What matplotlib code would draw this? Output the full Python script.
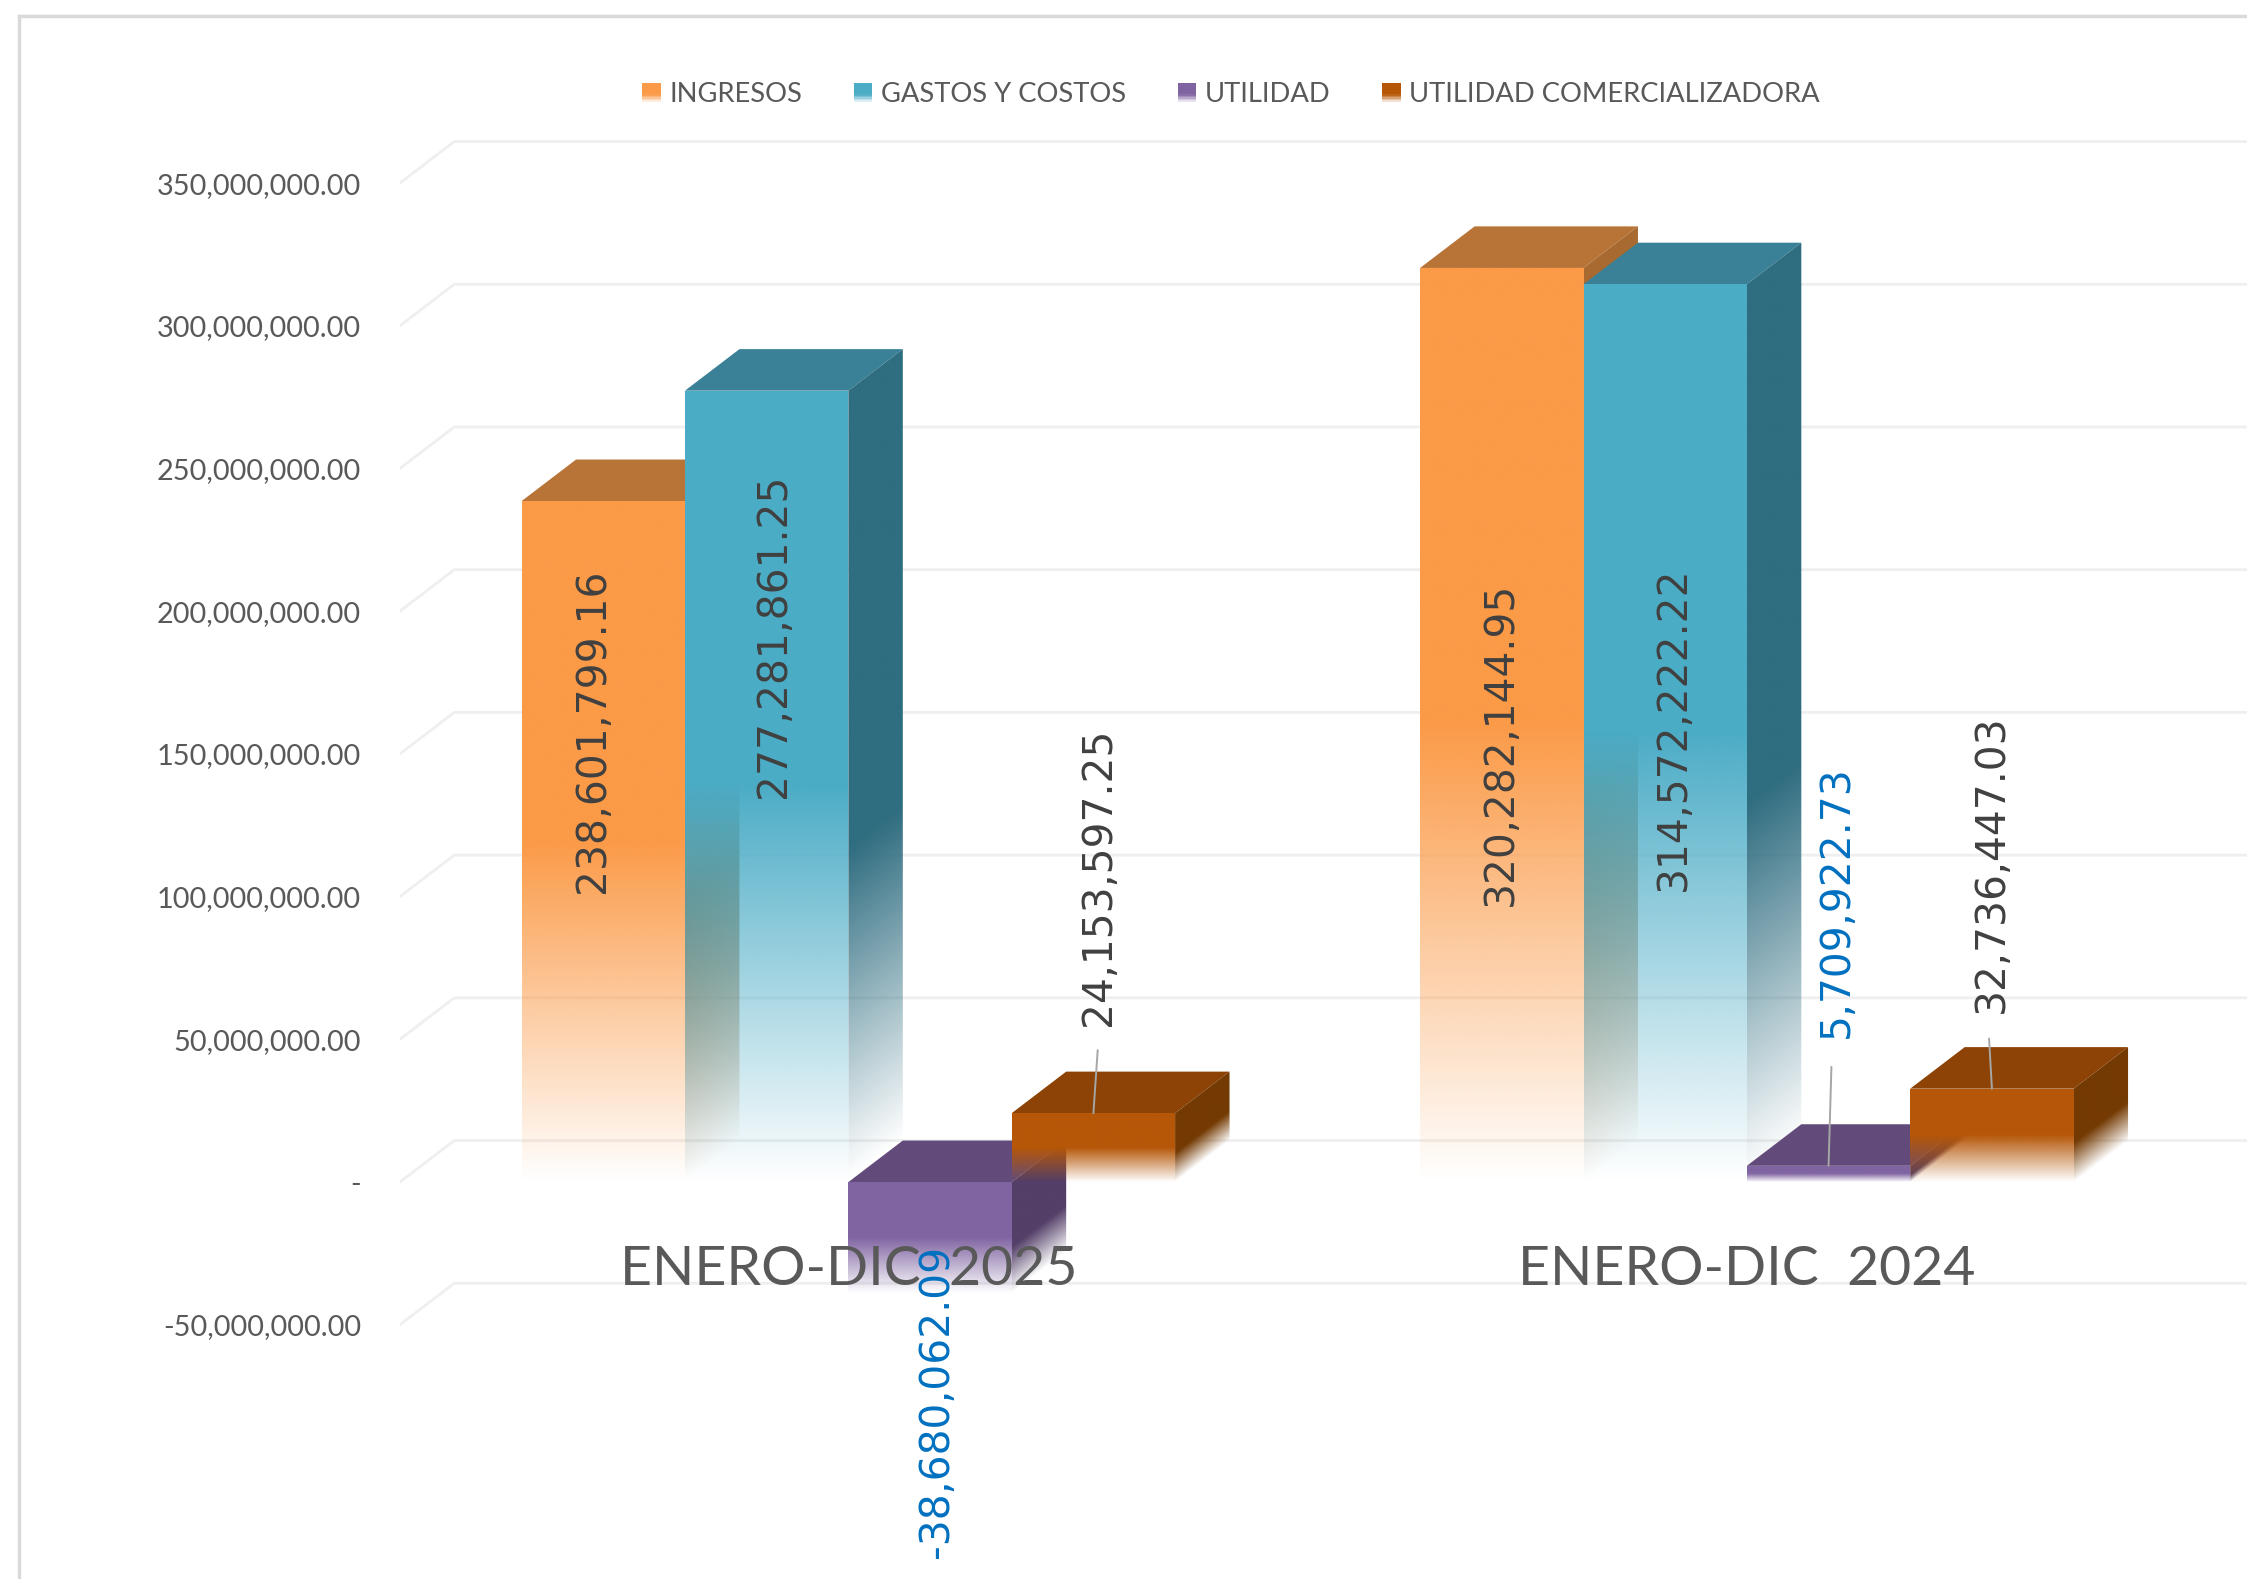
import numpy as np
import matplotlib
matplotlib.use('Agg')
import matplotlib.pyplot as plt
from matplotlib.legend_handler import HandlerBase
from matplotlib.lines import Line2D
from matplotlib.patches import Polygon, Rectangle

categories = ['ENERO-DIC  2025', 'ENERO-DIC  2024']
series_names = ['INGRESOS', 'GASTOS Y COSTOS', 'UTILIDAD', 'UTILIDAD COMERCIALIZADORA']
ingresos = [238601799.16, 320282144.95]
gastos = [277281861.25, 314572222.22]
utilidad = [-38680062.09, 5709922.73]
comercializadora = [24153597.25, 32736447.03]
y_ticks = [-50000000, 0, 50000000, 100000000, 150000000, 200000000, 250000000, 300000000, 350000000]

front_colors = ['#FB9A47', '#4BACC6', '#8064A2', '#B65708']
top_colors = ['#B87336', '#3A8198', '#624B7A', '#8C4305']
side_colors = ['#A86A30', '#2F6D80', '#533F68', '#743A03']
label_colors = ['#404040', '#404040', '#0070C0', '#404040']

# layout measured on the 1568 wide view of the reference
W, H = 1568.0, 1102.0
SCALE = 2247.0 / W
PT = SCALE * 72 / 100
CAT_PX = 627.0
CAT0_PX = 592.0
ZERO_PY = 825.0
PX_PER_VALUE = 99.6 / 50000000
BAR_W = 114.0 / CAT_PX
DEPTH_X = 38.0 / CAT_PX
DEPTH_Y = 29.0 / PX_PER_VALUE

# label offset from the bar top centre (px), [group][series]
label_dx = [[-7, 5, 5, 4], [-1, 6, 6, 0]]
label_dy = [[-160, -171, -153, 165], [-332, -310, 184, 157]]
# leader lines (group, series, length, dx at the label end)
leaders = [(0, 3, 44, 3), (1, 2, 69, 2), (1, 3, 35, -2)]

plt.rcParams['font.family'] = ['Lato', 'DejaVu Sans']


def fading_image(t, color, start):
    # alpha stays 1 down to start, then goes down to 0 at the base
    alpha = np.clip((1.0 - t) / (1.0 - start), 0, 1)
    rgb = matplotlib.colors.to_rgb(color)
    rgba = np.zeros(t.shape + (4,))
    rgba[..., 0], rgba[..., 1], rgba[..., 2] = rgb
    rgba[..., 3] = alpha
    return rgba


def fading_face(ax, x0, x1, y_top, height, rise, color, z, start=0.5):
    verts = [(x0, y_top), (x1, y_top + rise), (x1, y_top + rise - height), (x0, y_top - height)]
    y_max = y_top + rise
    y_min = y_top - height
    fx, fy = np.meshgrid(np.linspace(0, 1, 80), np.linspace(1, 0, 600))
    y = y_min + fy * (y_max - y_min)
    t = (y_top + fx * rise - y) / height
    im = ax.imshow(fading_image(np.clip(t, 0, 1), color, start), extent=(x0, x1, y_min, y_max),
        origin='upper', aspect='auto', interpolation='bilinear', zorder=z)
    clip = Polygon(verts, closed=True, transform=ax.transData)
    im.set_clip_path(clip)


def draw_bar(ax, left, value, i, z):
    right = left + BAR_W
    top = max(value, 0)
    height = abs(value)
    ax.add_patch(Polygon([(left, top), (right, top), (right + DEPTH_X, top + DEPTH_Y), (left + DEPTH_X, top + DEPTH_Y)],
        closed=True, facecolor=top_colors[i], edgecolor='none', zorder=z))
    fading_face(ax, right, right + DEPTH_X, top, height, DEPTH_Y, side_colors[i], z + 0.1, start=0.58)
    fading_face(ax, left, right, top, height, 0, front_colors[i], z + 0.2)


class FadeHandler(HandlerBase):
    def __init__(self, color):
        super().__init__()
        self.color = color

    def create_artists(self, legend, orig_handle, xdescent, ydescent, width, height, fontsize, trans):
        artists = []
        n = 12
        for k in range(n):
            frac = k / n
            alpha = 1.0 if frac < 0.55 else 1.0 - (frac - 0.55) / 0.45
            r = Rectangle((-xdescent, -ydescent + height * (1 - (k + 1) / n)), width, height / n,
                facecolor=self.color, edgecolor='none', alpha=alpha, transform=trans)
            artists.append(r)
        return artists


fig = plt.figure(figsize=(22.47, 15.79), dpi=100, facecolor='white')
ax = fig.add_axes([279 / W, 0, 1 - 279 / W, 1])
ax.set_xlim((279 - CAT0_PX) / CAT_PX, (W - CAT0_PX) / CAT_PX)
ax.set_ylim((ZERO_PY - H) / PX_PER_VALUE, ZERO_PY / PX_PER_VALUE)
ax.set_autoscale_on(False)
ax.patch.set_alpha(0)
for s in ax.spines.values():
    s.set_visible(False)
ax.set_xticks([])
ax.set_yticks(y_ticks)
ax.set_yticklabels(['-' if v == 0 else '{:,.2f}'.format(v) for v in y_ticks])
ax.tick_params(axis='y', length=0, pad=27 * PT, labelsize=20.8, labelcolor='#595959')

# grid: short diagonal on the side wall, then along the back wall
x_left = ax.get_xlim()[0]
x_right = ax.get_xlim()[1]
for v in y_ticks:
    ax.plot([x_left, x_left + DEPTH_X, x_right], [v, v + DEPTH_Y, v + DEPTH_Y],
        color='#EFEFEF', lw=2.0, zorder=1, solid_joinstyle='miter')

# frame of the chart area, cropped by the picture on the right and bottom
frame_x = 18.5 / 2247
frame_y = 1 - 15.5 / 1579
fig.add_artist(Line2D([frame_x, frame_x], [0, frame_y], color='#D9D9D9', lw=2.5))
fig.add_artist(Line2D([frame_x, 1], [frame_y, frame_y], color='#D9D9D9', lw=2.5))

values = [ingresos, gastos, utilidad, comercializadora]
for c in range(len(categories)):
    for i in range(len(values)):
        draw_bar(ax, c + (i - 2) * BAR_W, values[i][c], i, 3 + c + i * 0.25)

for c, name in enumerate(categories):
    ax.text(c, (ZERO_PY - 886) / PX_PER_VALUE, name, ha='center', va='center',
        fontsize=39.9, color='#595959', zorder=20)

for c in range(len(categories)):
    for i in range(len(values)):
        v = values[i][c]
        center = c + (i - 1.5) * BAR_W
        ax.annotate('{:,.2f}'.format(v), xy=(center, max(v, 0)),
            xytext=(label_dx[c][i] * PT, label_dy[c][i] * PT), textcoords='offset points',
            rotation=90, ha='center', va='center', fontsize=29.3, color=label_colors[i],
            family=['DejaVu Sans'], zorder=22)

for c, i, length, dx in leaders:
    v = values[i][c]
    ax.annotate('', xy=(c + (i - 1.5) * BAR_W, v), xytext=(dx * PT, length * PT),
        textcoords='offset points', zorder=21,
        arrowprops=dict(arrowstyle='-', color='#A6A6A6', lw=1.4, shrinkA=0, shrinkB=0))

handles = [Rectangle((0, 0), 1, 1) for _ in series_names]
fs = 19.7
fs_px = fs * 100 / 72
leg = ax.legend(handles, series_names, ncol=4, loc='center', frameon=False,
    bbox_to_anchor=(859 / W, 1 - 66 / H), bbox_transform=fig.transFigure, fontsize=fs,
    handler_map={h: FadeHandler(c) for h, c in zip(handles, front_colors)},
    handlelength=13 * SCALE / fs_px, handleheight=0.65, handletextpad=6 * SCALE / fs_px,
    columnspacing=36 * SCALE / fs_px, borderpad=0, labelcolor='#595959')

fig.savefig('out.png', dpi=100)
plt.close()
